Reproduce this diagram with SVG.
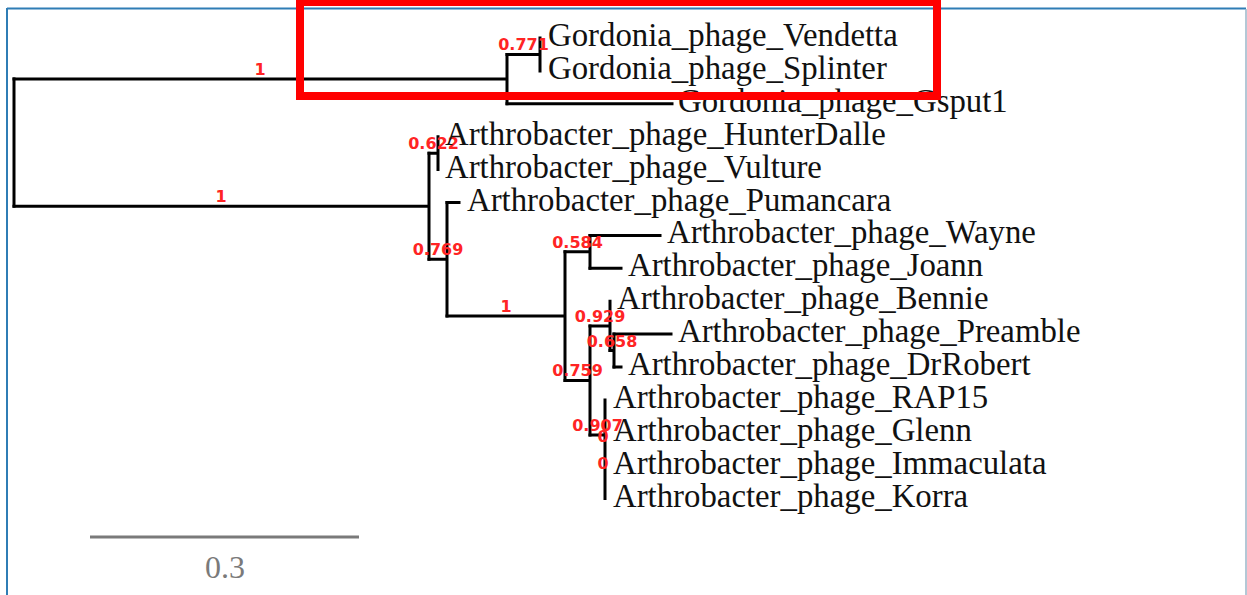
<svg xmlns="http://www.w3.org/2000/svg" width="1247" height="595" viewBox="0 0 1247 595">
<style>
.leaf{font-family:"Liberation Serif","Times New Roman",serif;font-size:32.8px;fill:#111}
.bs{font-family:"DejaVu Sans",Verdana,sans-serif;font-size:16px;font-weight:bold;fill:#ff2424;text-anchor:middle}
.br{fill:none;stroke:#000;stroke-width:3;stroke-linecap:square;stroke-linejoin:miter}
.scale{stroke:#7a7a7a;stroke-width:3}
.scalet{font-family:"Liberation Serif","Times New Roman",serif;font-size:32px;fill:#7a7a7a;text-anchor:middle}
</style>
<rect x="0" y="0" width="1247" height="595" fill="#fff"/>
<g id="frame">
<line x1="7" y1="8.5" x2="1246" y2="8.5" stroke="#2f7db5" stroke-width="2"/>
<line x1="7" y1="8" x2="7" y2="595" stroke="#2f7db5" stroke-width="2"/>
<line x1="1246" y1="9" x2="1246" y2="595" stroke="#9ab6c9" stroke-width="1.5"/>
</g>
<g id="connectors" class="br">
<path d="M14,78.9 V206.2"/>
<path d="M14,78.9 H507 M507,54.45 V103.8"/>
<path d="M507,54.45 H540 M540,38 V70.9"/>
<path d="M507,103.8 H672"/>
<path d="M14,206.2 H429 M429,153.15 V259.3"/>
<path d="M429,153.15 H438 M438,136.7 V169.6"/>
<path d="M429,259.3 H447 M447,202.5 V316.1"/>
<path d="M447,202.5 H459"/>
<path d="M447,316.1 H565 M565,251.85 V380.4"/>
<path d="M565,251.85 H590 M590,235.4 V268.3"/>
<path d="M590,235.4 H660 M590,268.3 H621"/>
<path d="M565,380.4 H590 M590,325.9 V435"/>
<path d="M590,325.9 H610 M610,301.2 V350.55"/>
<path d="M610,350.55 H614 M614,334.1 V367"/>
<path d="M614,334.1 H671 M614,367 H621"/>
<path d="M590,435 H605 M605,399.9 V498.6"/>
</g>
<g id="node-root-gordonia"><text class="bs" x="260" y="74.9">1</text></g>
<g id="node-vs"><text class="bs" x="523.5" y="50.45">0.771</text></g>
<g id="node-root-arthro"><text class="bs" x="221" y="202.2">1</text></g>
<g id="node-hv"><text class="bs" x="433.5" y="149.15">0.622</text></g>
<g id="node-769"><text class="bs" x="438" y="255.3">0.769</text></g>
<g id="node-1b"><text class="bs" x="506" y="312.1">1</text></g>
<g id="node-584"><text class="bs" x="577.5" y="247.85">0.584</text></g>
<g id="node-759"><text class="bs" x="577.5" y="376.4">0.759</text></g>
<g id="node-929"><text class="bs" x="600" y="321.9">0.929</text></g>
<g id="node-658"><text class="bs" x="612" y="346.55">0.658</text></g>
<g id="node-907"><text class="bs" x="597.5" y="431">0.907</text></g>
<g id="node-0a"><text class="bs" x="603" y="442">0</text></g>
<g id="node-0b"><text class="bs" x="603" y="469">0</text></g>
<g id="leaf-vendetta"><text class="leaf" x="548" y="46">Gordonia_phage_Vendetta</text></g>
<g id="leaf-splinter"><text class="leaf" x="548" y="78.9">Gordonia_phage_Splinter</text></g>
<g id="leaf-gsput1"><text class="leaf" x="678" y="111.8">Gordonia_phage_Gsput1</text></g>
<g id="leaf-hunterdalle"><text class="leaf" x="445" y="144.7">Arthrobacter_phage_HunterDalle</text></g>
<g id="leaf-vulture"><text class="leaf" x="445" y="177.6">Arthrobacter_phage_Vulture</text></g>
<g id="leaf-pumancara"><text class="leaf" x="467" y="210.5">Arthrobacter_phage_Pumancara</text></g>
<g id="leaf-wayne"><text class="leaf" x="667" y="243.4">Arthrobacter_phage_Wayne</text></g>
<g id="leaf-joann"><text class="leaf" x="628" y="276.3">Arthrobacter_phage_Joann</text></g>
<g id="leaf-bennie"><text class="leaf" x="617" y="309.2">Arthrobacter_phage_Bennie</text></g>
<g id="leaf-preamble"><text class="leaf" x="678" y="342.1">Arthrobacter_phage_Preamble</text></g>
<g id="leaf-drrobert"><text class="leaf" x="628" y="375">Arthrobacter_phage_DrRobert</text></g>
<g id="leaf-rap15"><text class="leaf" x="613" y="407.9">Arthrobacter_phage_RAP15</text></g>
<g id="leaf-glenn"><text class="leaf" x="613" y="440.8">Arthrobacter_phage_Glenn</text></g>
<g id="leaf-immaculata"><text class="leaf" x="613" y="473.7">Arthrobacter_phage_Immaculata</text></g>
<g id="leaf-korra"><text class="leaf" x="613" y="506.6">Arthrobacter_phage_Korra</text></g>
<g id="scalebar">
<line class="scale" x1="90" y1="537" x2="359" y2="537"/>
<text class="scalet" x="225" y="578">0.3</text>
</g>
<rect id="highlight" x="300" y="2" width="637" height="94" fill="none" stroke="#ff0000" stroke-width="8"/>
</svg>
